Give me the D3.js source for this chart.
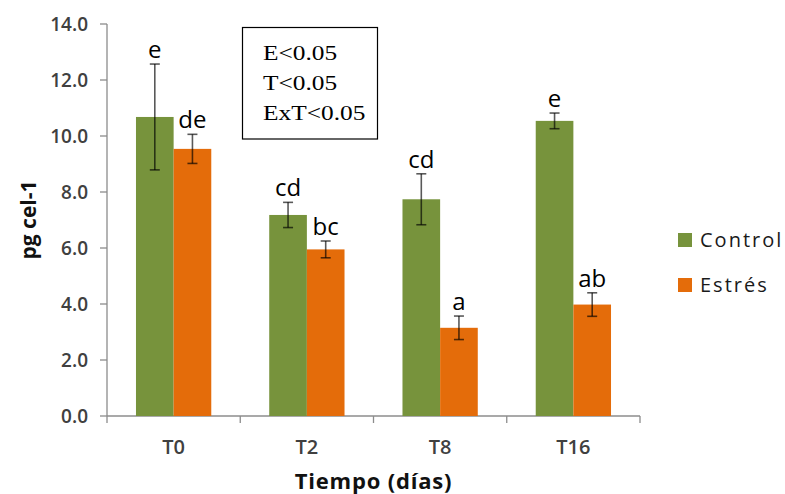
<!DOCTYPE html>
<html>
<head>
<meta charset="utf-8">
<script src="https://cdn.jsdelivr.net/npm/d3@7"></script>
<style>
  body { margin: 0; background: #fff; }
  svg { display: block; }
  .tick-label { font-family: "Open Sans", sans-serif; font-weight: 600; fill: #404040; }
  .axis-title { font-family: "Open Sans", sans-serif; font-weight: bold; fill: #111; }
  .letter { font-family: "Open Sans", sans-serif; font-size: 24px; fill: #000; }
  .legend-label { font-family: "Open Sans", sans-serif; font-size: 20px; letter-spacing: 2px; fill: #1a1a1a; }
  .stats { font-family: "Liberation Serif", "Times New Roman", serif; font-size: 21.5px; fill: #000; }
</style>
</head>
<body>
<svg id="chart"></svg>
<script>
const categories = ['T0', 'T2', 'T8', 'T16'];
const seriesNames = ['Control', 'Estrés'];
const controlValues = [10.68, 7.18, 7.74, 10.54];
const controlErrors = [1.89, 0.45, 0.91, 0.28];
const controlLetters = ['e', 'cd', 'cd', 'e'];
const stressValues = [9.54, 5.95, 3.15, 3.98];
const stressErrors = [0.52, 0.30, 0.42, 0.42];
const stressLetters = ['de', 'bc', 'a', 'ab'];
const yTicks = [0, 2, 4, 6, 8, 10, 12, 14];
const statsLines = ['E<0.05', 'T<0.05', 'ExT<0.05'];

const colors = {Control: '#77933c', 'Estrés': '#e46c0a'};
const chartSize = {width: 785, height: 494};
const plot = {left: 107, right: 640, top: 24, bottom: 416};

const groups = categories.map((category, i) => ({
  category,
  bars: [
    {series: 'Control', value: controlValues[i], error: controlErrors[i], letter: controlLetters[i]},
    {series: 'Estrés', value: stressValues[i], error: stressErrors[i], letter: stressLetters[i]}
  ]
}));

const svg = d3.select('#chart')
    .attr('width', chartSize.width)
    .attr('height', chartSize.height);

const x = d3.scaleBand()
    .domain(categories)
    .range([plot.left, plot.right])
    .paddingInner(0.435)
    .paddingOuter(0.2175);

const xInner = d3.scaleBand()
    .domain(seriesNames)
    .range([0, x.bandwidth()]);

const y = d3.scaleLinear()
    .domain([0, 14])
    .range([plot.bottom, plot.top]);

const axisColor = '#8c8c8c';

// y axis
const yAxis = svg.append('g');
yAxis.append('line')
    .attr('x1', plot.left).attr('x2', plot.left)
    .attr('y1', y(14)).attr('y2', y(0))
    .attr('stroke', axisColor).attr('stroke-width', 1.3);

yAxis.selectAll('.ytick')
    .data(yTicks)
    .join('line')
    .attr('x1', plot.left - 7).attr('x2', plot.left)
    .attr('y1', d => y(d)).attr('y2', d => y(d))
    .attr('stroke', axisColor).attr('stroke-width', 1.3);

yAxis.selectAll('.ylabel')
    .data(yTicks)
    .join('text')
    .attr('class', 'tick-label')
    .attr('x', 88)
    .attr('y', d => y(d))
    .attr('dy', '0.36em')
    .attr('text-anchor', 'end')
    .style('font-size', '19px')
    .text(d3.format('.1f'));

// x axis
const step = x.step();
const boundaries = d3.range(categories.length + 1).map(i => plot.left + i * step);

const xAxis = svg.append('g');
xAxis.append('line')
    .attr('x1', plot.left).attr('x2', plot.right)
    .attr('y1', plot.bottom).attr('y2', plot.bottom)
    .attr('stroke', axisColor).attr('stroke-width', 1.3);

xAxis.selectAll('.xtick')
    .data(boundaries)
    .join('line')
    .attr('x1', d => d).attr('x2', d => d)
    .attr('y1', plot.bottom).attr('y2', plot.bottom + 7)
    .attr('stroke', axisColor).attr('stroke-width', 1.3);

xAxis.selectAll('.xlabel')
    .data(categories)
    .join('text')
    .attr('class', 'tick-label')
    .attr('x', d => x(d) + x.bandwidth() / 2)
    .attr('y', 454)
    .attr('text-anchor', 'middle')
    .style('font-size', '20px')
    .text(d => d);

svg.append('text')
    .attr('class', 'axis-title')
    .attr('x', (plot.left + plot.right) / 2)
    .attr('y', 489)
    .attr('text-anchor', 'middle')
    .style('font-size', '22px')
    .style('letter-spacing', '0.8px')
    .text('Tiempo (días)');

svg.append('text')
    .attr('class', 'axis-title')
    .attr('transform', `translate(36,${(plot.top + plot.bottom) / 2}) rotate(-90)`)
    .attr('text-anchor', 'middle')
    .style('font-size', '21px')
    .text('pg cel-1');

// bars
const g = svg.selectAll('.group')
    .data(groups)
    .join('g')
    .attr('transform', d => `translate(${x(d.category)},0)`);

const bar = g.selectAll('.bar')
    .data(d => d.bars)
    .join('g');

bar.append('rect')
    .attr('x', d => xInner(d.series))
    .attr('y', d => y(d.value))
    .attr('width', xInner.bandwidth())
    .attr('height', d => y(0) - y(d.value))
    .attr('fill', d => colors[d.series]);

const center = d => xInner(d.series) + xInner.bandwidth() / 2;

bar.append('line')
    .attr('x1', center).attr('x2', center)
    .attr('y1', d => y(d.value + d.error))
    .attr('y2', d => y(d.value - d.error))
    .attr('stroke', '#000').attr('stroke-opacity', 0.65).attr('stroke-width', 1.6);

[1, -1].forEach(sign => {
  bar.append('line')
      .attr('x1', d => center(d) - 5).attr('x2', d => center(d) + 5)
      .attr('y1', d => y(d.value + sign * d.error))
      .attr('y2', d => y(d.value + sign * d.error))
      .attr('stroke', '#000').attr('stroke-opacity', 0.65).attr('stroke-width', 1.6);
});

bar.append('text')
    .attr('class', 'letter')
    .attr('x', center)
    .attr('y', d => y(d.value + d.error) - 6)
    .attr('text-anchor', 'middle')
    .text(d => d.letter);

// legend
const legend = svg.selectAll('.legend')
    .data(seriesNames)
    .join('g')
    .attr('transform', (d, i) => `translate(678,${233 + i * 45})`);

legend.append('rect')
    .attr('width', 14)
    .attr('height', 14)
    .attr('fill', d => colors[d]);

legend.append('text')
    .attr('class', 'legend-label')
    .attr('x', 22)
    .attr('y', 14)
    .text(d => d);

// stats box
svg.append('rect')
    .attr('x', 242.5).attr('y', 27.5)
    .attr('width', 135).attr('height', 111.5)
    .attr('fill', 'none')
    .attr('stroke', '#000')
    .attr('stroke-width', 1.2);

svg.selectAll('.stats')
    .data(statsLines)
    .join('text')
    .attr('class', 'stats')
    .attr('transform', (d, i) => `translate(263,${60 + i * 30}) scale(1.18,1)`)
    .text(d => d);
</script>
</body>
</html>
